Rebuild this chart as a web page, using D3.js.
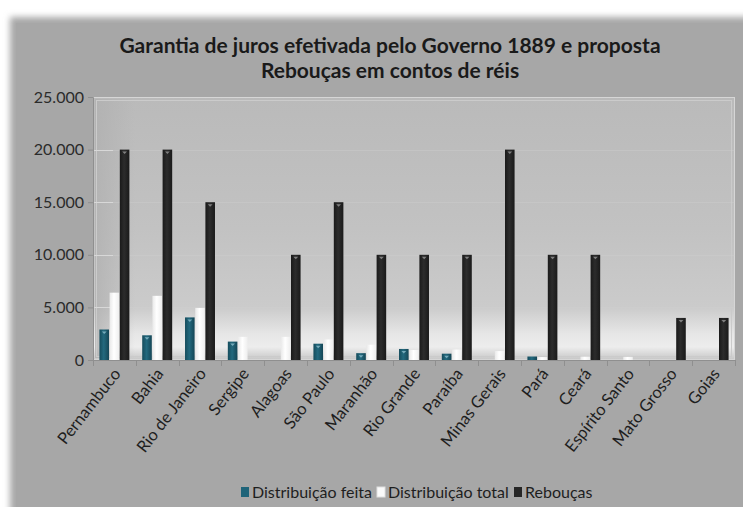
<!DOCTYPE html>
<html><head><meta charset="utf-8">
<script src="https://cdn.jsdelivr.net/npm/d3@7"></script>
<style>html,body{margin:0;padding:0;background:#fff;overflow:hidden}</style>
</head><body>
<svg id="c" width="743" height="507"></svg>
<script>
const categories = ["Pernambuco","Bahia","Rio de Janeiro","Sergipe","Alagoas","São Paulo","Maranhão","Rio Grande","Paraíba","Minas Gerais","Pará","Ceará","Espírito Santo","Mato Grosso","Goias"];
const seriesNames = ["Distribuição feita","Distribuição total","Rebouças"];
const distribuicaoFeita  = [2900, 2350, 4050, 1750, 0, 1550, 650, 1050, 600, 0, 330, 0, 0, 0, 0];
const distribuicaoTotal  = [6400, 6100, 4950, 2200, 2200, 1950, 1450, 950, 1000, 850, 280, 320, 300, 0, 0];
const reboucas           = [20000, 20000, 15000, 0, 10000, 15000, 10000, 10000, 10000, 20000, 10000, 10000, 0, 4000, 4000];
const yTicks = [0, 5000, 10000, 15000, 20000, 25000];
const titleLines = ["Garantia de juros efetivada pelo Governo 1889 e proposta","Rebouças em contos de réis"];

const seriesValues = [distribuicaoFeita, distribuicaoTotal, reboucas];
const seriesFill = ["url(#gTeal)","url(#gWhite)","url(#gBlack)"];
const seriesSwatch = ["#1f6479","#fafafa","#262626"];
const FONT = "Lato, 'Open Sans', sans-serif";

const svg = d3.select("#c");
const defs = svg.append("defs");
const blur = defs.append("filter").attr("id","soft").attr("x","-10%").attr("y","-10%").attr("width","130%").attr("height","130%");
blur.append("feGaussianBlur").attr("stdDeviation",3);

function hGrad(id, stops){
  const g = defs.append("linearGradient").attr("id",id).attr("x1",0).attr("x2",1).attr("y1",0).attr("y2",0);
  stops.forEach(s=>g.append("stop").attr("offset",s[0]).attr("stop-color",s[1]));
}
hGrad("gTeal",[[0,"#164c5c"],[0.45,"#23697e"],[1,"#154656"]]);
hGrad("gWhite",[[0,"#e9e9e9"],[0.45,"#ffffff"],[1,"#eeeeee"]]);
hGrad("gBlack",[[0,"#1a1a1a"],[0.45,"#2c2c2c"],[1,"#1a1a1a"]]);
const pg = defs.append("linearGradient").attr("id","plotBg").attr("x1",0).attr("x2",0).attr("y1",0).attr("y2",1);
[[0,"#bababa"],[0.5,"#c2c2c2"],[0.8,"#cbcbcb"],[0.9,"#e6e6e6"],[0.95,"#ededed"],[1,"#c6c6c6"]].forEach(s=>pg.append("stop").attr("offset",s[0]).attr("stop-color",s[1]));
const lg = defs.append("linearGradient").attr("id","leftBand").attr("x1",0).attr("x2",1).attr("y1",0).attr("y2",0);
[[0,"#b0b0b0"],[1,"#b0b0b0"]].forEach((s,i)=>lg.append("stop").attr("offset",s[0]).attr("stop-color",s[1]).attr("stop-opacity",i?0:0.8));

// outer panel
svg.append("rect").attr("x",10).attr("y",17).attr("width",800).attr("height",600)
  .attr("fill","#a7a7a7").attr("filter","url(#soft)");
svg.append("rect").attr("x",16).attr("y",23).attr("width",800).attr("height",600)
  .attr("fill","#a7a7a7");

const pLeft = 93, pRight = 735, pTop = 97, pBottom = 360;
const x = d3.scaleBand().domain(categories).range([pLeft,pRight]).paddingInner(0).paddingOuter(0);
const bw = x.bandwidth();
const xs = d3.scaleBand().domain(seriesNames).range([bw*0.15, bw*0.85]).paddingInner(0.06);
const y = d3.scaleLinear().domain([0,25000]).range([pBottom,pTop]);

// plot area
svg.append("rect").attr("x",pLeft).attr("y",pTop).attr("width",pRight-pLeft).attr("height",pBottom-pTop)
  .attr("fill","url(#plotBg)");
svg.append("rect").attr("x",pLeft+2).attr("y",pTop+2).attr("width",40).attr("height",pBottom-pTop-4)
  .attr("fill","url(#leftBand)");
svg.append("rect").attr("x",pLeft+0.5).attr("y",pTop+0.5).attr("width",pRight-pLeft-1).attr("height",pBottom-pTop-1)
  .attr("fill","none").attr("stroke","#d6d6d6").attr("stroke-width",1);
svg.append("rect").attr("x",pLeft+3.5).attr("y",pTop+3.5).attr("width",pRight-pLeft-7).attr("height",pBottom-pTop-7)
  .attr("fill","none").attr("stroke","#cbcbcb").attr("stroke-width",1);

// gridlines
const gridVals = yTicks.filter(d=>d>0 && d<25000);
svg.append("g").selectAll("line").data(gridVals).join("line")
  .attr("x1",pLeft).attr("x2",pLeft+20).attr("y1",d=>Math.round(y(d))+0.5).attr("y2",d=>Math.round(y(d))+0.5)
  .attr("stroke","#d8d8d8").attr("stroke-width",1);
svg.append("g").selectAll("line").data(gridVals).join("line")
  .attr("x1",pLeft+20).attr("x2",pRight).attr("y1",d=>Math.round(y(d))+0.5).attr("y2",d=>Math.round(y(d))+0.5)
  .attr("stroke","#d0d0d0").attr("stroke-opacity",0.35).attr("stroke-width",1);

// y axis
const yAxis = d3.axisLeft(y).tickValues(yTicks).tickSize(5).tickPadding(4)
  .tickFormat(d=>d3.format(",")(d).replace(/,/g,"."));
const ya = svg.append("g").attr("transform",`translate(${pLeft},0)`).call(yAxis);
ya.select(".domain").attr("stroke","#8f8f8f");
ya.selectAll(".tick line").attr("stroke","#8f8f8f");
ya.selectAll("text").attr("font-family",FONT).attr("font-size",16).attr("fill","#2b2b2b");

// x axis
const xa = svg.append("g").attr("transform",`translate(0,${pBottom})`)
  .call(d3.axisBottom(x).tickSize(0).tickFormat(""));
xa.select(".domain").attr("stroke","#8f8f8f");
svg.append("g").selectAll("line").data(categories.concat(["__end"])).join("line")
  .attr("x1",(d,i)=>Math.round(pLeft + i*bw)+0.5).attr("x2",(d,i)=>Math.round(pLeft + i*bw)+0.5)
  .attr("y1",pBottom).attr("y2",pBottom+6).attr("stroke","#8f8f8f");
svg.append("g").selectAll("text").data(categories).join("text")
  .attr("transform",d=>`translate(${x(d)+bw/2+7},${pBottom+14}) rotate(-52)`)
  .attr("text-anchor","end")
  .attr("font-family",FONT).attr("font-size",16.5).attr("fill","#1e1e1e")
  .text(d=>d);

// bars
const gBars = svg.append("g");
seriesNames.forEach((s,si)=>{
  const g = gBars.append("g");
  const data = categories.map((c,i)=>({c, v: seriesValues[si][i]})).filter(d=>d.v>0);
  g.selectAll("rect.bar").data(data).join("rect").attr("class","bar")
    .attr("x",d=>x(d.c)+xs(s)).attr("width",xs.bandwidth())
    .attr("y",d=>y(d.v)).attr("height",d=>y(0)-y(d.v))
    .attr("fill",seriesFill[si]);
  if (si !== 1) {
    g.selectAll("path.tip").data(data.filter(d=>y(0)-y(d.v)>5)).join("path").attr("class","tip")
      .attr("d",d=>{const x0=x(d.c)+xs(s), w=xs.bandwidth(), y0=y(d.v);
        return `M${x0+w*0.25},${y0+2}L${x0+w*0.75},${y0+2}L${x0+w*0.5},${y0+4.5}Z`;})
      .attr("fill", si===0 ? "#7fb3c2" : "#8a8a8a").attr("opacity",0.9);
  }
});

// title
svg.append("g").selectAll("text").data(titleLines).join("text")
  .attr("x",390).attr("y",(d,i)=>53+i*25).attr("text-anchor","middle")
  .attr("font-family",FONT).attr("font-weight","bold").attr("font-size",21).attr("fill","#1a1a1a")
  .text(d=>d);

// legend
const legendX = [241, 377, 514];
const lgG = svg.append("g");
seriesNames.forEach((s,i)=>{
  lgG.append("rect").attr("x",legendX[i]).attr("y",487).attr("width",8).attr("height",10)
    .attr("fill",seriesSwatch[i]).attr("stroke", i===1?"#e0e0e0":"none");
  lgG.append("text").attr("x",legendX[i]+11).attr("y",498)
    .attr("font-family",FONT).attr("font-size",16).attr("fill","#1e1e1e").text(s);
});
</script>
</body></html>
